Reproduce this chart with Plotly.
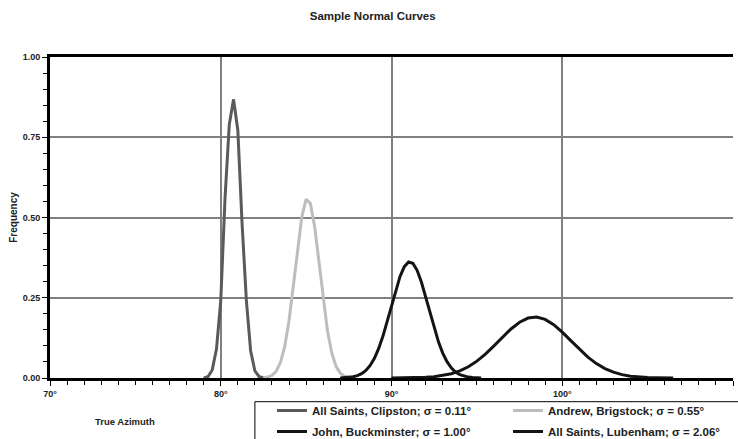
import plotly.graph_objects as go

# ---- data ----
clipston_x = [79.0, 79.25, 79.5, 79.75, 80.0, 80.25, 80.5, 80.75, 81.0, 81.25, 81.5, 81.75, 82.0, 82.25, 82.5]
clipston_y = [0.0005, 0.004, 0.025, 0.09, 0.24, 0.56, 0.79, 0.868, 0.772, 0.48, 0.242, 0.085, 0.022, 0.0042, 0.0006]

brigstock_x = [82.5, 82.75, 83.0, 83.25, 83.5, 83.75, 84.0, 84.25, 84.5, 84.75, 85.0, 85.25,
               85.5, 85.75, 86.0, 86.25, 86.5, 86.75, 87.0, 87.25, 87.5, 87.75]
brigstock_y = [0.0008, 0.0028, 0.0081, 0.0212, 0.0488, 0.0993, 0.179, 0.285, 0.403, 0.503, 0.557, 0.544,
               0.471, 0.361, 0.245, 0.147, 0.078, 0.0366, 0.0152, 0.0056, 0.0018, 0.0005]

buckminster_x = [87.0, 87.25, 87.5, 87.75, 88.0, 88.25, 88.5, 88.75, 89.0, 89.25, 89.5, 89.75,
                 90.0, 90.25, 90.5, 90.75, 91.0, 91.25, 91.5, 91.75, 92.0, 92.25, 92.5, 92.75,
                 93.0, 93.25, 93.5, 93.75, 94.0, 94.25, 94.5, 94.75, 95.0, 95.25]
buckminster_y = [0.0004, 0.0009, 0.0019, 0.0038, 0.0074, 0.0135, 0.0236, 0.0392, 0.0616, 0.0921, 0.1307, 0.1762,
                 0.2256, 0.2742, 0.3165, 0.347, 0.3613, 0.3572, 0.3354, 0.299, 0.2532, 0.2036, 0.1555, 0.1128,
                 0.0777, 0.0508, 0.0316, 0.0186, 0.0104, 0.0055, 0.0028, 0.0013, 0.0006, 0.0003]

lubenham_x = [90.0, 90.5, 91.0, 91.5, 92.0, 92.5, 93.0, 93.5, 94.0, 94.5, 95.0, 95.5, 96.0, 96.5,
              97.0, 97.5, 98.0, 98.5, 99.0, 99.5, 100.0, 100.5, 101.0, 101.5, 102.0, 102.5,
              103.0, 103.5, 104.0, 104.5, 105.0, 105.5, 106.0, 106.5]
lubenham_y = [0.0001, 0.0002, 0.0004, 0.0010, 0.0020, 0.0040, 0.0074, 0.0131, 0.0220, 0.0350, 0.0525, 0.0745,
              0.1001, 0.1271, 0.1528, 0.1736, 0.1867, 0.1898, 0.1826, 0.1661, 0.1429, 0.1163, 0.0896,
              0.0652, 0.0449, 0.0293, 0.0181, 0.0105, 0.0058, 0.0030, 0.0015, 0.0007, 0.0003, 0.0001]

series_names = ["All Saints, Clipston; σ = 0.11°", "Andrew, Brigstock; σ = 0.55°",
                "John, Buckminster; σ = 1.00°", "All Saints, Lubenham; σ = 2.06°"]
series_colors = ["#5a5a5a", "#bdbdbd", "#141414", "#141414"]
series_legends = ["legend", "legend2", "legend", "legend2"]

x_ticks = [70, 80, 90, 100, 110]
x_tick_text = ["70°", "80°", "90°", "100°", "110°"]
y_ticks = [0.0, 0.25, 0.5, 0.75, 1.0]

FONT = "Liberation Sans, Arial, sans-serif"
TXT = "#222222"

fig = go.Figure()
for i, (xs, ys, name, col, lg) in enumerate(zip([clipston_x, brigstock_x, buckminster_x, lubenham_x],
                                                [clipston_y, brigstock_y, buckminster_y, lubenham_y],
                                                series_names, series_colors, series_legends)):
    fig.add_trace(go.Scatter(x=xs, y=ys, mode="lines", name=name, legend=lg,
                             legendgroup="g%d" % i,
                             line=dict(color=col, width=3)))

legend_common = dict(orientation="v", xanchor="left", y=-0.056, yanchor="top",
                     borderwidth=0, bgcolor="rgba(0,0,0,0)", traceorder="grouped",
                     tracegroupgap=2,
                     font=dict(family=FONT, size=11.5, color=TXT, weight="bold"))

fig.update_layout(
    width=738, height=439,
    margin=dict(l=50, r=5, t=57, b=61, autoexpand=False),
    paper_bgcolor="white", plot_bgcolor="white",
    font=dict(family=FONT, color=TXT, size=9, weight="bold"),
    title=dict(text="Sample Normal Curves", x=0.505, xanchor="center", y=0.963, yanchor="middle",
               font=dict(family=FONT, size=11.5, color=TXT, weight="bold")),
    showlegend=True,
    legend=dict(x=0.325, **legend_common),
    legend2=dict(x=0.6706, **legend_common),
)

# legend frame
fig.add_shape(type="rect", xref="paper", yref="paper", x0=0.300, x1=1.05, y0=-0.25, y1=-0.0738,
              line=dict(color="black", width=1), fillcolor="rgba(0,0,0,0)", layer="above")

fig.update_xaxes(range=[70, 110], tickvals=x_ticks, ticktext=x_tick_text,
                 showgrid=True, gridcolor="#808080", gridwidth=1.5,
                 showline=True, linecolor="black", linewidth=3, mirror=True,
                 ticks="outside", ticklen=5, tickwidth=1, tickcolor="black",
                 minor=dict(dtick=1, ticks="outside", ticklen=4, tickwidth=1, tickcolor="black", showgrid=False),
                 zeroline=False,
                 tickfont=dict(family=FONT, size=9, color=TXT, weight="bold"))
fig.update_yaxes(range=[0, 1], tickvals=y_ticks, tickformat=".2f",
                 showgrid=True, gridcolor="#808080", gridwidth=1.5,
                 showline=True, linecolor="black", linewidth=3,
                 ticks="outside", ticklen=5, tickwidth=1, tickcolor="black",
                 minor=dict(dtick=0.05, ticks="outside", ticklen=4, tickwidth=1, tickcolor="black", showgrid=False),
                 zeroline=False,
                 title=dict(text="Frequency", standoff=4,
                            font=dict(family=FONT, size=10, color=TXT, weight="bold")),
                 tickfont=dict(family=FONT, size=9, color=TXT, weight="bold"))

fig.add_annotation(text="True Azimuth", xref="paper", yref="paper", x=0.11, y=-0.137,
                   xanchor="center", yanchor="middle", showarrow=False,
                   font=dict(family=FONT, size=9.5, color=TXT, weight="bold"))

fig.write_html("out.html")
